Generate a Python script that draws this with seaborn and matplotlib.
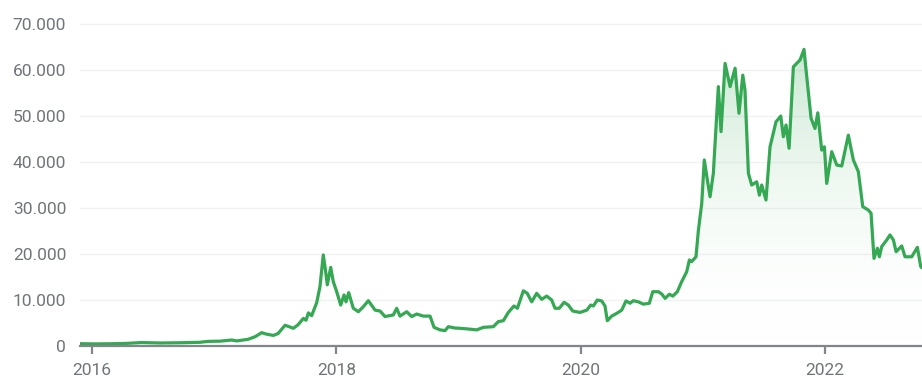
import numpy as np
import pandas as pd
import matplotlib
matplotlib.use("Agg")
import matplotlib.pyplot as plt
from matplotlib.ticker import FuncFormatter, FixedLocator
from matplotlib.colors import LinearSegmentedColormap
import seaborn as sns

# Time expressed as decimal years, closing price in USD
years = [
    2015.902, 2016.025, 2016.147, 2016.270, 2016.407, 2016.557, 2016.720, 2016.884,
    2016.950, 2017.048, 2017.144, 2017.185, 2017.277, 2017.334, 2017.389, 2017.424,
    2017.484, 2017.523, 2017.580, 2017.613, 2017.648, 2017.686, 2017.730, 2017.752,
    2017.771, 2017.798, 2017.839, 2017.866, 2017.893, 2017.911, 2017.926, 2017.954,
    2017.975, 2018.003, 2018.036, 2018.063, 2018.079, 2018.101, 2018.139, 2018.180,
    2018.221, 2018.262, 2018.317, 2018.358, 2018.398, 2018.466, 2018.494, 2018.521,
    2018.576, 2018.617, 2018.658, 2018.712, 2018.767, 2018.800, 2018.849, 2018.890,
    2018.917, 2018.972, 2019.012, 2019.078, 2019.149, 2019.203, 2019.285, 2019.326,
    2019.367, 2019.408, 2019.454, 2019.482, 2019.531, 2019.563, 2019.599, 2019.640,
    2019.681, 2019.722, 2019.763, 2019.790, 2019.825, 2019.864, 2019.899, 2019.935,
    2019.995, 2020.050, 2020.082, 2020.104, 2020.136, 2020.172, 2020.199, 2020.218,
    2020.254, 2020.295, 2020.336, 2020.371, 2020.404, 2020.431, 2020.472, 2020.513,
    2020.562, 2020.590, 2020.636, 2020.664, 2020.691, 2020.726, 2020.754, 2020.791,
    2020.827, 2020.868, 2020.890, 2020.909, 2020.944, 2020.963, 2020.991, 2021.012,
    2021.037, 2021.059, 2021.086, 2021.127, 2021.149, 2021.182, 2021.223, 2021.264,
    2021.296, 2021.327, 2021.345, 2021.373, 2021.400, 2021.441, 2021.463, 2021.482,
    2021.517, 2021.550, 2021.599, 2021.638, 2021.659, 2021.681, 2021.706, 2021.741,
    2021.796, 2021.828, 2021.845, 2021.886, 2021.918, 2021.941, 2021.973, 2021.995,
    2022.014, 2022.055, 2022.096, 2022.137, 2022.191, 2022.232, 2022.273, 2022.309,
    2022.355, 2022.377, 2022.401, 2022.429, 2022.445, 2022.464, 2022.505, 2022.532,
    2022.560, 2022.582, 2022.628, 2022.655, 2022.710, 2022.756, 2022.784, 2022.794,
]
prices = [
    500, 450, 480, 550, 750, 650, 700, 800,
    1000, 1050, 1300, 1100, 1450, 2000, 2900, 2600,
    2300, 2700, 4500, 4200, 3850, 4600, 6000, 5600,
    7200, 6600, 9400, 12900, 19800, 16500, 13300, 17100,
    14000, 11800, 8900, 11100, 9600, 11600, 8200, 7450,
    8550, 9850, 7800, 7600, 6400, 6750, 8200, 6500,
    7450, 6400, 6950, 6500, 6500, 4050, 3500, 3350,
    4200, 3900, 3850, 3700, 3500, 4050, 4200, 5300,
    5500, 7300, 8700, 8200, 12000, 11450, 9600, 11450,
    10150, 10850, 10000, 8200, 8200, 9500, 8900, 7600,
    7300, 7800, 8900, 8700, 10000, 9800, 8700, 5500,
    6500, 7100, 7800, 9800, 9300, 9850, 9600, 9100,
    9300, 11800, 11800, 11300, 10350, 11250, 10850, 11800,
    14000, 16150, 18700, 18350, 19400, 25000, 31000, 40450,
    36100, 32450, 37550, 56400, 46600, 61450, 56400, 60400,
    50600, 58900, 55650, 37550, 35000, 35700, 32800, 35000,
    31750, 43300, 48750, 50000, 45500, 48050, 43000, 60700,
    62200, 64500, 60000, 49500, 47300, 50700, 42600, 43300,
    35350, 42250, 39350, 39150, 45850, 40450, 37900, 30300,
    29550, 28850, 19050, 21250, 19400, 21600, 23050, 24150,
    23050, 20500, 21750, 19400, 19400, 21450, 17250, 17000,
]
year_ticks = [2016, 2018, 2020, 2022]
price_ticks = [0, 10000, 20000, 30000, 40000, 50000, 60000, 70000]

df = pd.DataFrame({"year": years, "price": prices})

GREEN = "#34a853"
TEXT = "#70757a"
AXIS = "#80868b"

sns.set_style("white")
plt.rcParams["font.family"] = ["Roboto", "DejaVu Sans"]

fig = plt.figure(figsize=(9.22, 3.81), dpi=100)
ax = fig.add_axes([0.0868, 0.0919, 0.9132, 0.857])

x_min, x_max = 2015.902, 2022.794
ax.set_xlim(x_min, x_max)
ax.set_ylim(0, 71000)

# Horizontal grid
for v in price_ticks[1:]:
    ax.axhline(v, color="#f1f1f1", lw=1.0, zorder=0)

# Gradient fill under the price line
fill = ax.fill_between(df["year"], df["price"], 0, color="none", lw=0)
cmap = LinearSegmentedColormap.from_list(
    "fade", [(1, 1, 1, 0), (0x34 / 255, 0xa8 / 255, 0x53 / 255, 0.26)]
)
grad = np.linspace(0, 1, 256).reshape(-1, 1)
img = ax.imshow(grad, cmap=cmap, aspect="auto", origin="lower",
                extent=(x_min, x_max, 0, max(prices)), zorder=1)
clip = fill.get_paths()[0]
img.set_clip_path(clip, transform=ax.transData)

sns.lineplot(data=df, x="year", y="price", ax=ax, color=GREEN, lw=2.3,
             zorder=3, estimator=None, sort=False)

# Axes styling
for side in ("top", "right", "left"):
    ax.spines[side].set_visible(False)
ax.spines["bottom"].set_color(AXIS)
ax.spines["bottom"].set_linewidth(1.6)
ax.spines["bottom"].set_zorder(4)

ax.xaxis.set_major_locator(FixedLocator(year_ticks))
ax.xaxis.set_major_formatter(FuncFormatter(lambda v, p: f"{int(round(v))}"))
ax.yaxis.set_major_locator(FixedLocator(price_ticks))
ax.yaxis.set_major_formatter(
    FuncFormatter(lambda v, p: f"{int(v):,}".replace(",", "."))
)
ax.tick_params(axis="x", length=6, width=1.6, color=AXIS, pad=6,
               labelsize=12.5, labelcolor=TEXT, direction="out", bottom=True)
ax.tick_params(axis="y", length=0, pad=10, labelsize=12.5, labelcolor=TEXT)
ax.set_xlabel("")
ax.set_ylabel("")
ax.grid(False)

fig.savefig("out.png", dpi=100)
